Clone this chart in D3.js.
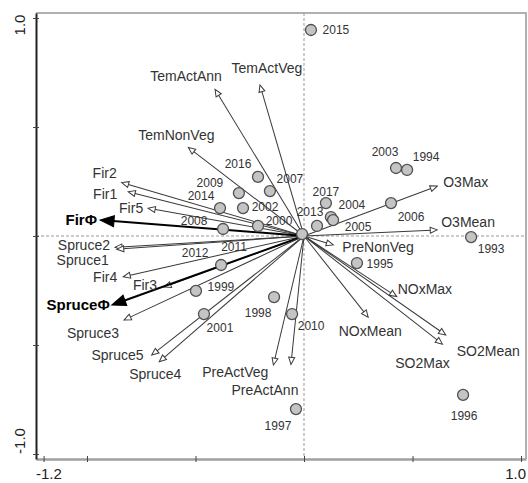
<!DOCTYPE html>
<html>
<head>
<meta charset="utf-8">
<script src="https://cdn.jsdelivr.net/npm/d3@7"></script>
<style>
    body { margin: 0; background: #fff; }
    svg { display: block; font-family: "Liberation Sans", Arial, sans-serif; }
</style>
</head>
<body>
<svg id="chart" width="528" height="483"></svg>
<script>
    // site scores (years)
    var siteYears = ['2015', '2003', '1994', '2006', '1993', '2017', '2004', '2005', '2013', '2011',
        '2012', '1995', '2016', '2009', '2007', '2014', '2002', '2008', '2000', '1999',
        '2001', '1998', '2010', '1997', '1996'];
    var siteX = [0.032, 0.424, 0.475, 0.401, 0.770, 0.101, 0.124, 0.134, 0.060, -0.009,
        -0.382, 0.244, -0.212, -0.300, -0.157, -0.387, -0.281, -0.373, -0.212, -0.498,
        -0.461, -0.138, -0.055, -0.037, 0.733];
    var siteY = [0.945, 0.312, 0.303, 0.151, -0.005, 0.151, 0.087, 0.073, 0.046, 0.009,
        -0.133, -0.124, 0.271, 0.197, 0.206, 0.128, 0.128, 0.032, 0.046, -0.252,
        -0.358, -0.280, -0.358, -0.794, -0.729];

    // variable arrows (species and environment)
    var arrowNames = ['TemActAnn', 'TemActVeg', 'TemNonVeg', 'Fir2', 'Fir1', 'Fir5', 'Fir\u03A6',
        'Spruce2', 'Spruce1', 'Fir4', 'Fir3', 'Spruce\u03A6', 'Spruce3', 'Spruce5', 'Spruce4',
        'PreActVeg', 'PreActAnn', 'NOxMean', 'NOxMax', 'SO2Max', 'SO2Mean', 'PreNonVeg',
        'O3Mean', 'O3Max'];
    var arrowX = [-0.410, -0.203, -0.533, -0.840, -0.810, -0.718, -0.940,
        -0.871, -0.863, -0.833, -0.645, -0.886, -0.829, -0.702, -0.667,
        -0.141, -0.060, 0.296, 0.427, 0.638, 0.653, 0.135,
        0.614, 0.614];
    var arrowY = [0.673, 0.693, 0.406, 0.245, 0.203, 0.127, 0.073,
        -0.052, -0.061, -0.187, -0.234, -0.317, -0.385, -0.546, -0.577,
        -0.592, -0.589, -0.373, -0.278, -0.496, -0.454, -0.041,
        0.028, 0.229];
    var boldArrows = ['Fir\u03A6', 'Spruce\u03A6'];

    // axis range and end labels
    var xDomain = [-1.235, 1.023];
    var yDomain = [-1.023, 1.023];
    var xTicks = [-1.2, -1.0, -0.5, 0, 0.5, 1.0];
    var yTicks = [-1.0, -0.5, 0, 0.5, 1.0];
    var xEndLabels = ['-1.2', '1.0'];
    var yEndLabels = ['-1.0', '1.0'];

    // label placement (pixel offsets from the point / arrow tip)
    var siteLabelPos = {
        '2015': [25, 0], '2003': [-11, -16], '1994': [19, -13], '2006': [20, 14], '1993': [20, 12],
        '2017': [0, -11], '2004': [21, -12], '2005': [25, 7], '2013': [-7, -14], '2011': [-68, 13],
        '2012': [-26, -12], '1995': [23, 1], '2016': [-20, -13], '2009': [-29, -10], '2007': [20, -12],
        '2014': [-19, -12], '2002': [22, -1], '2008': [-29, -8], '2000': [21, -5], '1999': [25, -4],
        '2001': [16, 14], '1998': [-16, 16], '2010': [19, 12], '1997': [-18, 17], '1996': [1, 21]
    };
    var arrowLabelPos = {
        'TemActAnn': [-29, -13, 'middle'], 'TemActVeg': [7, -17, 'middle'], 'TemNonVeg': [-12, -12, 'middle'],
        'Fir2': [-5, -9, 'end'], 'Fir1': [-11, 2, 'end'], 'Fir5': [-5, 0, 'end'], 'Fir\u03A6': [-3, 0, 'end'],
        'Spruce2': [-5, -2, 'end'], 'Spruce1': [-8, 11, 'end'], 'Fir4': [-6, 0, 'end'], 'Fir3': [-7, -2, 'end'],
        'Spruce\u03A6': [-2, 0, 'end'], 'Spruce3': [-5, 13, 'end'], 'Spruce5': [-8, 0, 'end'],
        'Spruce4': [-4, 12, 'middle'], 'PreActVeg': [-5, 7, 'end'], 'PreActAnn': [-26, 26, 'middle'],
        'NOxMean': [2, 14, 'middle'], 'NOxMax': [1, -8, 'start'], 'SO2Max': [-20, 19, 'middle'],
        'SO2Mean': [11, 16, 'start'], 'PreNonVeg': [9, 2, 'start'], 'O3Mean': [4, -8, 'start'],
        'O3Max': [6, -4, 'start']
    };

    var svg = d3.select('#chart'),
        x = d3.scaleLinear().domain(xDomain).range([36, 526]),
        y = d3.scaleLinear().domain(yDomain).range([459, 13]),
        sites = siteYears.map(function (d, i) {
            return {year: d, x: siteX[i], y: siteY[i]};
        }),
        arrows = arrowNames.map(function (d, i) {
            return {name: d, x: arrowX[i], y: arrowY[i], bold: boldArrows.indexOf(d) >= 0};
        });

    // frame
    svg.append('path')
        .attr('d', 'M' + x(xDomain[0]) + ',' + y(yDomain[1]) + 'H' + x(xDomain[1]) + 'V' + y(yDomain[0]))
        .attr('fill', 'none')
        .attr('stroke', '#b0b0b0')
        .attr('stroke-width', 2);

    // zero lines
    svg.append('line')
        .attr('x1', x(0)).attr('x2', x(0))
        .attr('y1', y(yDomain[1])).attr('y2', y(yDomain[0]))
        .attr('stroke', '#999').attr('stroke-dasharray', '3,2');
    svg.append('line')
        .attr('x1', x(xDomain[0])).attr('x2', x(xDomain[1]))
        .attr('y1', y(0)).attr('y2', y(0))
        .attr('stroke', '#999').attr('stroke-dasharray', '3,2');

    // axes
    var xAxis = svg.append('g')
        .attr('transform', 'translate(0,' + y(yDomain[0]) + ')')
        .call(d3.axisBottom(x).tickValues(xTicks).tickSize(3).tickSizeOuter(0).tickFormat(''));
    xAxis.select('.domain').attr('stroke', '#a0a0a0').attr('stroke-width', 2.5);
    xAxis.selectAll('.tick line').attr('stroke', '#444').attr('y1', -3).attr('y2', 3);

    var yAxis = svg.append('g')
        .attr('transform', 'translate(' + x(xDomain[0]) + ',0)')
        .call(d3.axisLeft(y).tickValues(yTicks).tickSize(3).tickSizeOuter(0).tickFormat(''));
    yAxis.select('.domain').attr('stroke', '#222').attr('stroke-width', 2);
    yAxis.selectAll('.tick line').attr('stroke', '#444').attr('x1', -3).attr('x2', 3);

    svg.append('text')
        .attr('x', x(xDomain[0])).attr('y', 479)
        .attr('font-size', 15).attr('fill', '#222')
        .text(xEndLabels[0]);
    svg.append('text')
        .attr('x', x(xDomain[1])).attr('y', 479)
        .attr('text-anchor', 'end')
        .attr('font-size', 15).attr('fill', '#222')
        .text(xEndLabels[1]);
    svg.selectAll('.ylab')
        .data([[yEndLabels[0], 441], [yEndLabels[1], 25]])
        .enter().append('text')
        .attr('class', 'ylab')
        .attr('transform', function (d) {
            return 'translate(25,' + d[1] + ') rotate(-90)';
        })
        .attr('text-anchor', 'middle')
        .attr('font-size', 15).attr('fill', '#222')
        .text(function (d) {
            return d[0];
        });

    // arrows
    var x0 = x(0), y0 = y(0);
    var arrow = svg.append('g').selectAll('g')
        .data(arrows)
        .enter().append('g')
        .attr('transform', function (d) {
            var tx = x(d.x), ty = y(d.y),
                ang = Math.atan2(ty - y0, tx - x0) * 180 / Math.PI;
            return 'translate(' + tx + ',' + ty + ') rotate(' + ang + ')';
        });

    arrow.append('line')
        .attr('x1', function (d) {
            var tx = x(d.x), ty = y(d.y);
            return -Math.sqrt((tx - x0) * (tx - x0) + (ty - y0) * (ty - y0));
        })
        .attr('x2', function (d) {
            return d.bold ? -10 : -6;
        })
        .attr('y1', 0).attr('y2', 0)
        .attr('stroke', function (d) {
            return d.bold ? '#000' : '#3a3a3a';
        })
        .attr('stroke-width', function (d) {
            return d.bold ? 2 : 1;
        });

    arrow.append('path')
        .attr('d', function (d) {
            return d.bold ? 'M0,0L-14,-5.5L-14,5.5Z' : 'M0,0L-7,-3L-7,3Z';
        })
        .attr('fill', function (d) {
            return d.bold ? '#000' : '#fff';
        })
        .attr('stroke', function (d) {
            return d.bold ? '#000' : '#3a3a3a';
        })
        .attr('stroke-width', 1);

    // site points
    svg.append('g').selectAll('circle')
        .data(sites)
        .enter().append('circle')
        .attr('cx', function (d) {
            return x(d.x);
        })
        .attr('cy', function (d) {
            return y(d.y);
        })
        .attr('r', 5.5)
        .attr('fill', '#c4c4c4')
        .attr('stroke', '#505050')
        .attr('stroke-width', 1.3);

    // labels
    svg.append('g').selectAll('text')
        .data(arrows)
        .enter().append('text')
        .attr('x', function (d) {
            return x(d.x) + arrowLabelPos[d.name][0];
        })
        .attr('y', function (d) {
            return y(d.y) + arrowLabelPos[d.name][1];
        })
        .attr('dy', '0.35em')
        .attr('text-anchor', function (d) {
            return arrowLabelPos[d.name][2];
        })
        .attr('font-size', function (d) {
            return d.bold ? 15 : 14;
        })
        .attr('font-weight', function (d) {
            return d.bold ? 'bold' : 'normal';
        })
        .attr('fill', function (d) {
            return d.bold ? '#000' : '#333';
        })
        .text(function (d) {
            return d.name;
        });

    svg.append('g').selectAll('text')
        .data(sites)
        .enter().append('text')
        .attr('x', function (d) {
            return x(d.x) + siteLabelPos[d.year][0];
        })
        .attr('y', function (d) {
            return y(d.y) + siteLabelPos[d.year][1];
        })
        .attr('dy', '0.35em')
        .attr('text-anchor', 'middle')
        .attr('font-size', 12)
        .attr('fill', '#333')
        .text(function (d) {
            return d.year;
        });
</script>
</body>
</html>
